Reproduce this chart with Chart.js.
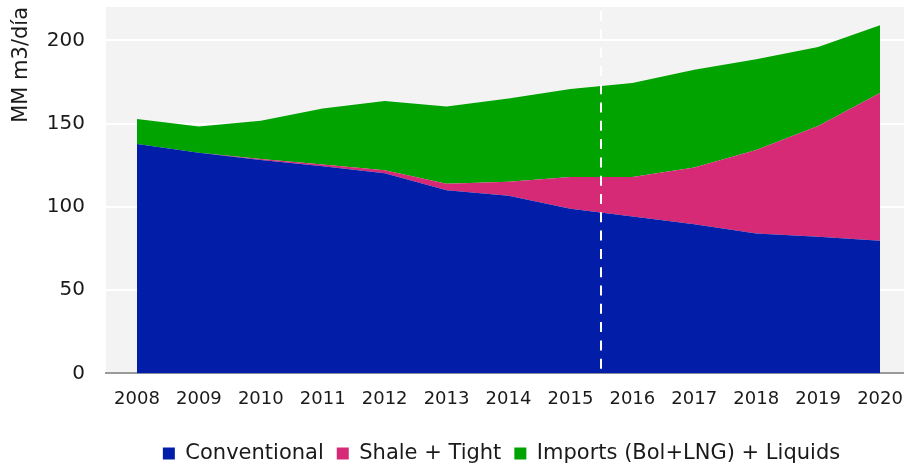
<!DOCTYPE html>
<html>
<head>
<meta charset="utf-8">
<script src="https://cdn.jsdelivr.net/npm/chart.js@4.4.1/dist/chart.umd.min.js"></script>
<style>
  html, body { margin: 0; padding: 0; background: #ffffff; overflow: hidden; }
  #wrap { width: 904px; height: 466px; overflow: hidden; position: relative; }
  #c { display: block; }
</style>
</head>
<body>
<div id="wrap"><canvas id="c" width="911" height="474"></canvas></div>
<script>
const years = ['2008','2009','2010','2011','2012','2013','2014','2015','2016','2017','2018','2019','2020'];
const conventional = [137.7, 132.5, 128.1, 124.4, 120.2, 110.0, 106.6, 98.8, 94.2, 89.6, 84.0, 82.0, 79.6];
const shaleTight   = [0, 0, 0.6, 1.0, 1.8, 3.8, 8.5, 19.2, 23.8, 34.1, 50.1, 66.5, 88.8];
const importsLiq   = [15.0, 15.8, 23.0, 33.7, 41.5, 46.5, 50.0, 52.7, 56.4, 58.6, 54.5, 47.5, 40.6];
const yTicks = [0, 50, 100, 150, 200];
const dividerAfter = '2015';

const FONT = '"DejaVu Sans", Verdana, sans-serif';

const plotBg = {
  id: 'plotBg',
  beforeDraw(chart) {
    const {ctx, chartArea: a} = chart;
    ctx.save();
    ctx.fillStyle = '#f3f3f3';
    ctx.fillRect(a.left, a.top, a.right - a.left, a.bottom - a.top);
    ctx.restore();
    if (chart.legend && !chart.legend._shifted) {
      chart.legend.left -= 7;
      chart.legend.right -= 7;
      chart.legend._shifted = true;
    }
  }
};

const divider = {
  id: 'divider',
  afterDatasetsDraw(chart) {
    const {ctx, chartArea: a, scales: {x}} = chart;
    const i = years.indexOf(dividerAfter);
    const px = Math.round((x.getPixelForValue(i) + x.getPixelForValue(i + 1)) / 2);
    ctx.save();
    ctx.strokeStyle = '#ffffff';
    ctx.lineWidth = 2;
    ctx.setLineDash([10, 8.3]);
    ctx.beginPath();
    ctx.moveTo(px, a.top + 4);
    ctx.lineTo(px, a.bottom);
    ctx.stroke();
    ctx.restore();
  }
};

const common = { pointRadius: 0, pointHoverRadius: 0, borderWidth: 0, tension: 0 };

new Chart(document.getElementById('c'), {
  type: 'line',
  data: {
    labels: years,
    datasets: [
      Object.assign({ label: 'Conventional', data: conventional, backgroundColor: '#021ea8', borderColor: '#021ea8', fill: 'origin' }, common),
      Object.assign({ label: 'Shale + Tight', data: shaleTight, backgroundColor: '#d62a77', borderColor: '#d62a77', fill: '-1' }, common),
      Object.assign({ label: 'Imports (Bol+LNG) + Liquids', data: importsLiq, backgroundColor: '#00a300', borderColor: '#00a300', fill: '-1' }, common)
    ]
  },
  options: {
    responsive: false,
    devicePixelRatio: 1,
    animation: false,
    layout: { padding: { top: 7, right: 0, left: 0, bottom: 0 } },
    plugins: {
      tooltip: { enabled: false },
      legend: {
        position: 'bottom',
        fullSize: false,
        labels: {
          font: { family: FONT, size: 21 },
          color: '#1a1a1a',
          boxWidth: 12,
          boxHeight: 12,
          padding: 13
        }
      }
    },
    scales: {
      x: {
        offset: true,
        grid: { display: false, drawTicks: false },
        border: { display: true, color: '#9a9a9a', width: 2 },
        ticks: { font: { family: FONT, size: 18 }, color: '#1a1a1a', padding: 15, maxRotation: 0, autoSkip: false },
        afterFit(s) { s.paddingLeft = 0; s.paddingRight = 0; s.height += 5; }
      },
      y: {
        stacked: true,
        min: 0,
        max: 220,
        afterBuildTicks(scale) { scale.ticks = yTicks.map(v => ({ value: v })); },
        afterFit(s) { s.width = 106; s.paddingTop = 0; s.paddingBottom = 0; },
        grid: { color: '#ffffff', lineWidth: 2, drawTicks: false },
        border: { display: false },
        ticks: { font: { family: FONT, size: 20 }, color: '#1a1a1a', padding: 21 },
        title: { display: true, text: 'MM m3/día', align: 'end', font: { family: FONT, size: 21 }, color: '#1a1a1a', padding: { top: 9, bottom: 0 } }
      }
    }
  },
  plugins: [plotBg, divider]
});
</script>
</body>
</html>
